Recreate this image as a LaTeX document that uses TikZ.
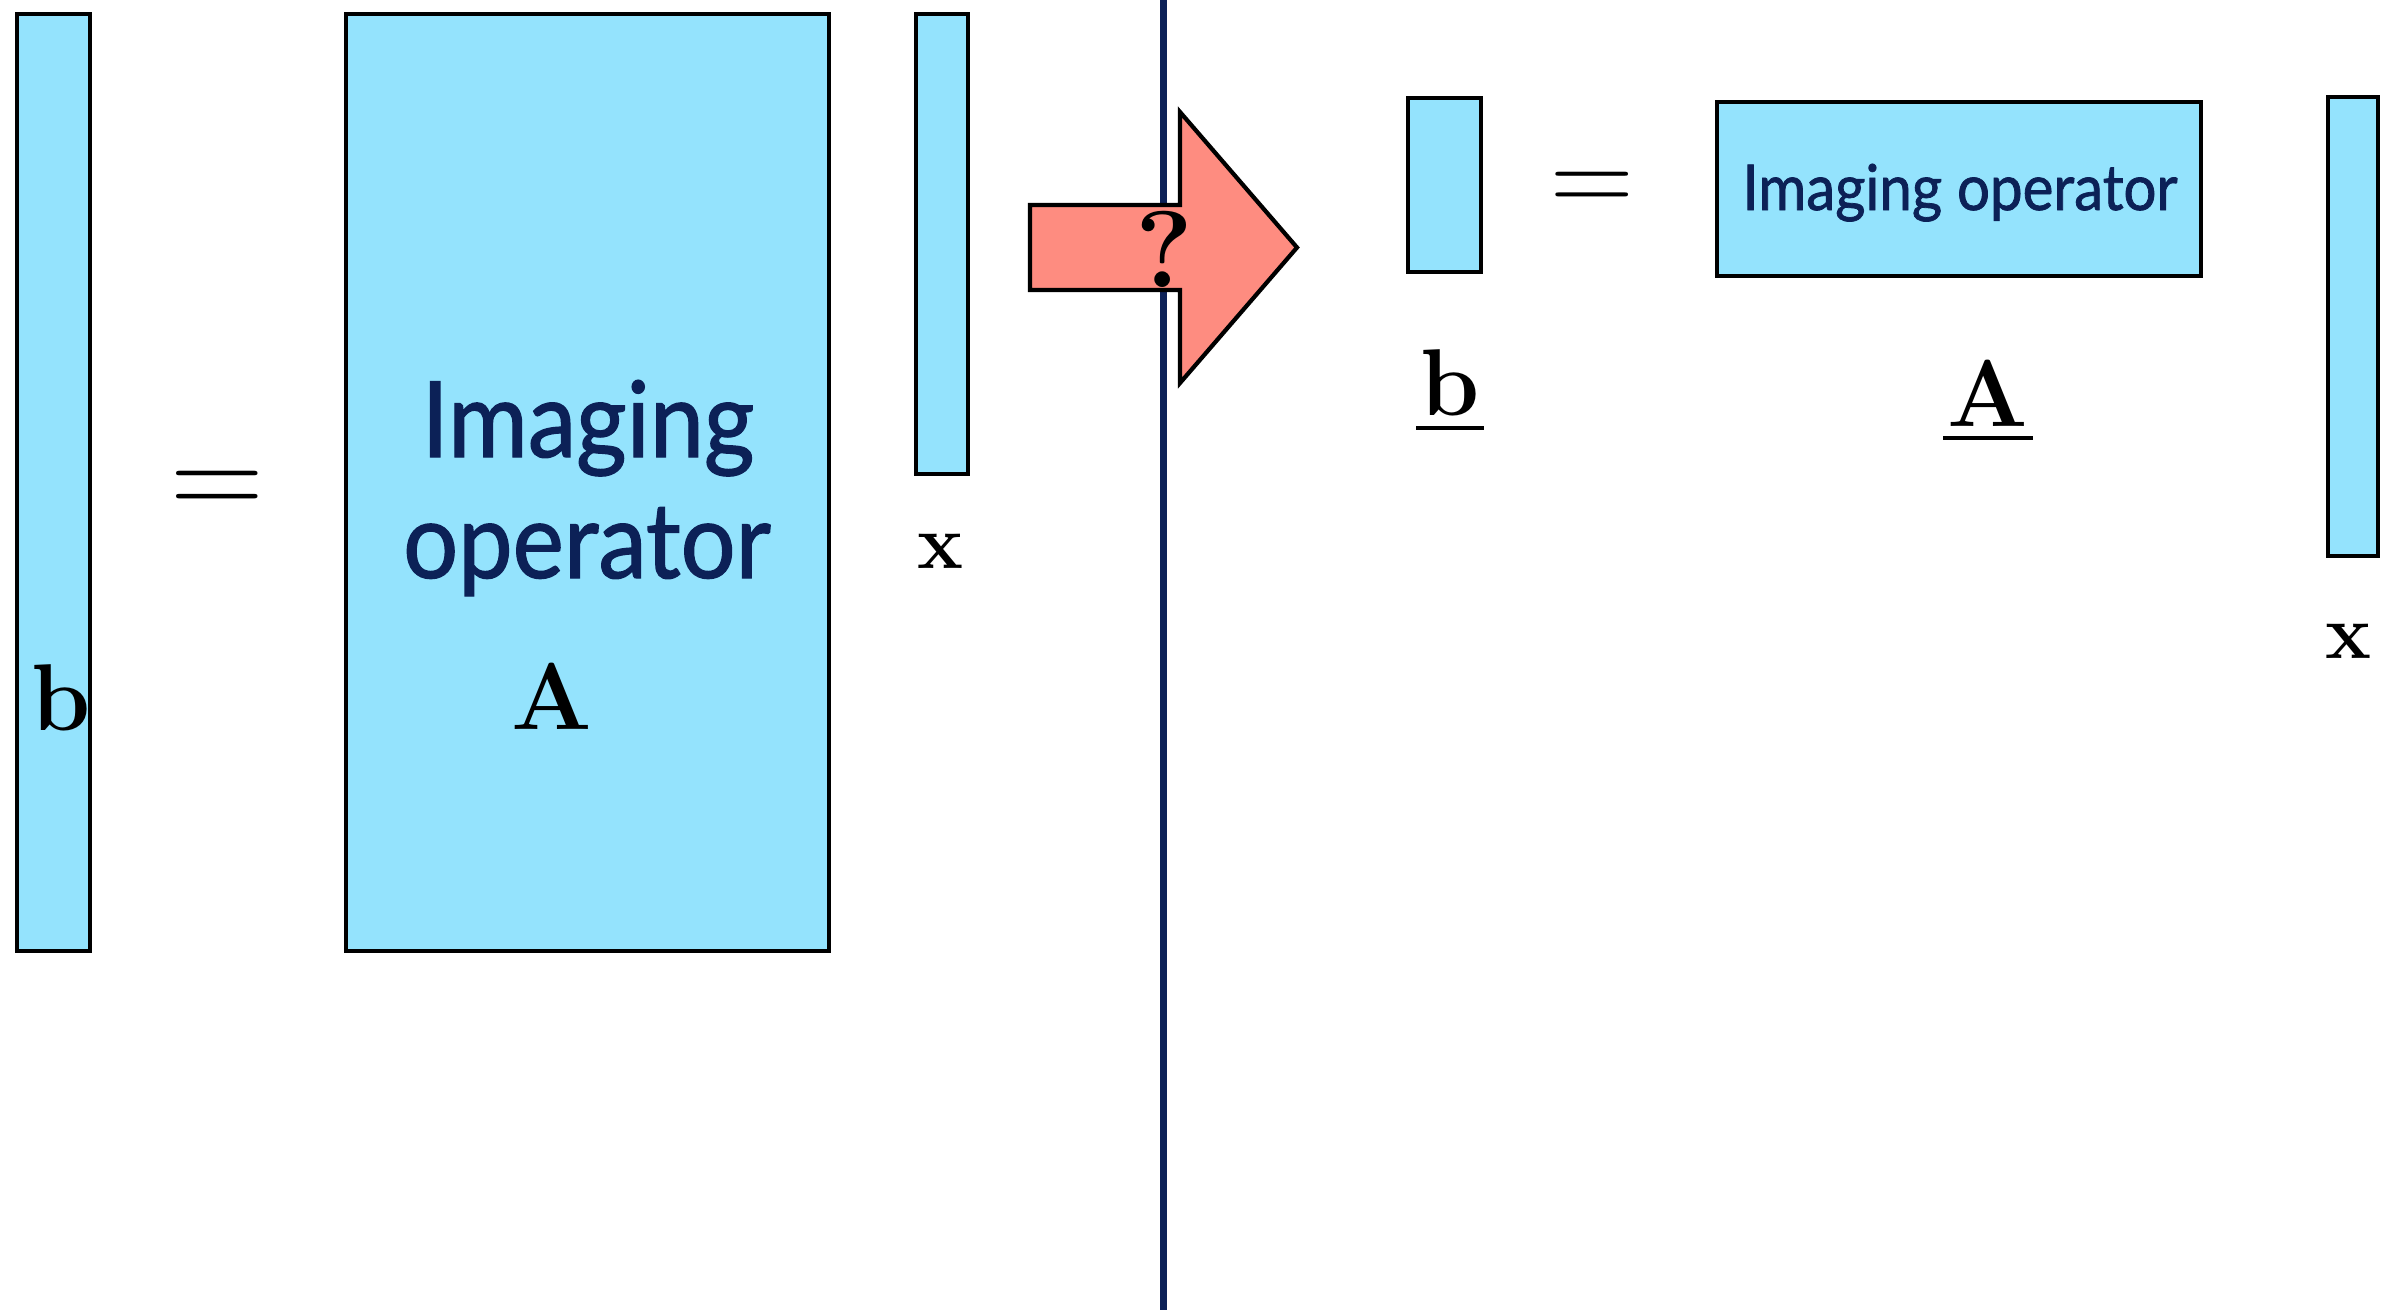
\documentclass[tikz,border=0pt]{standalone}
\usepackage{fontspec}
\newfontfamily\gillfont[FakeStretch=0.92,FakeBold=1.2]{Lato}
\usetikzlibrary{positioning}
\definecolor{opBlue}{HTML}{94E3FD}
\definecolor{opRed}{HTML}{FE8C80}
\definecolor{opNavy}{HTML}{0C2157}

\begin{document}
\begin{tikzpicture}[
      vec/.style={draw=black,fill=opBlue,line width=1.2pt,inner sep=0pt,anchor=north west},
      sym/.style={inner sep=0pt,anchor=base,font=\fontsize{27}{30}\selectfont\bfseries},
      eq/.style={inner sep=0pt,anchor=base,font=\fontsize{37}{40}\selectfont},
      optext/.style={inner sep=0pt,anchor=base,text=opNavy,font=\gillfont\fontsize{30}{34}\selectfont},
      ul/.style={line width=1.2pt}]
      \useasboundingbox (0,0) rectangle (23.88,-13.10);
      % left: big system
      \node[vec,minimum width=0.73cm,minimum height=9.37cm] (bL) at (0.15,-0.12) {};
      \node[vec,minimum width=4.83cm,minimum height=9.37cm] (AL) at (3.44,-0.12) {};
      \node[vec,minimum width=0.52cm,minimum height=4.60cm] (xL) at (9.14,-0.12) {};
      \node[eq] (eqL) at (2.17,-5.17) {=};
      \node[optext] (opL1) at (5.88,-4.57) {Imaging};
      \node[optext] (opL2) at (5.87,-5.78) {operator};
      \node[sym] (bLt) at (0.61,-7.30) {b};
      \node[sym] (ALt) at (5.52,-7.29) {A};
      \node[sym,font=\fontsize{22}{26}\selectfont\bfseries] (xLt) at (9.40,-5.68) {x};
      % divider and arrow
      \draw[opNavy,line width=2pt] (11.63,0) -- (11.63,-13.10);
      \draw[fill=opRed,line width=1.2pt] (10.30,-2.05) -- (11.80,-2.05) -- (11.80,-1.12) -- (12.97,-2.475)
            -- (11.80,-3.83) -- (11.80,-2.90) -- (10.30,-2.90) -- cycle;
      \node[sym,font=\fontsize{31}{34}\selectfont\bfseries] (q) at (11.64,-2.87) {?};
      % right: small system
      \node[vec,minimum width=0.73cm,minimum height=1.74cm] (bR) at (14.06,-0.96) {};
      \node[vec,minimum width=4.84cm,minimum height=1.74cm] (AR) at (17.15,-1.00) {};
      \node[vec,minimum width=0.50cm,minimum height=4.59cm] (xR) at (23.26,-0.95) {};
      \node[eq,font=\fontsize{33}{36}\selectfont] (eqR) at (15.92,-2.13) {=};
      \node[optext,font=\gillfont\fontsize{18}{20}\selectfont] (opR) at (19.60,-2.10) {Imaging operator};
      \node[sym] (bRt) at (14.50,-4.15) {b};
      \node[sym] (ARt) at (19.88,-4.26) {A};
      \node[sym,font=\fontsize{22}{26}\selectfont\bfseries] (xRt) at (23.48,-6.58) {x};
      \draw[ul] ([yshift=-3.7pt,xshift=-1pt]bRt.base west) -- ([yshift=-3.7pt,xshift=1pt]bRt.base east);
      \draw[ul] ([yshift=-3.4pt,xshift=-1pt]ARt.base west) -- ([yshift=-3.4pt,xshift=1pt]ARt.base east);
    \end{tikzpicture}
\end{document}
